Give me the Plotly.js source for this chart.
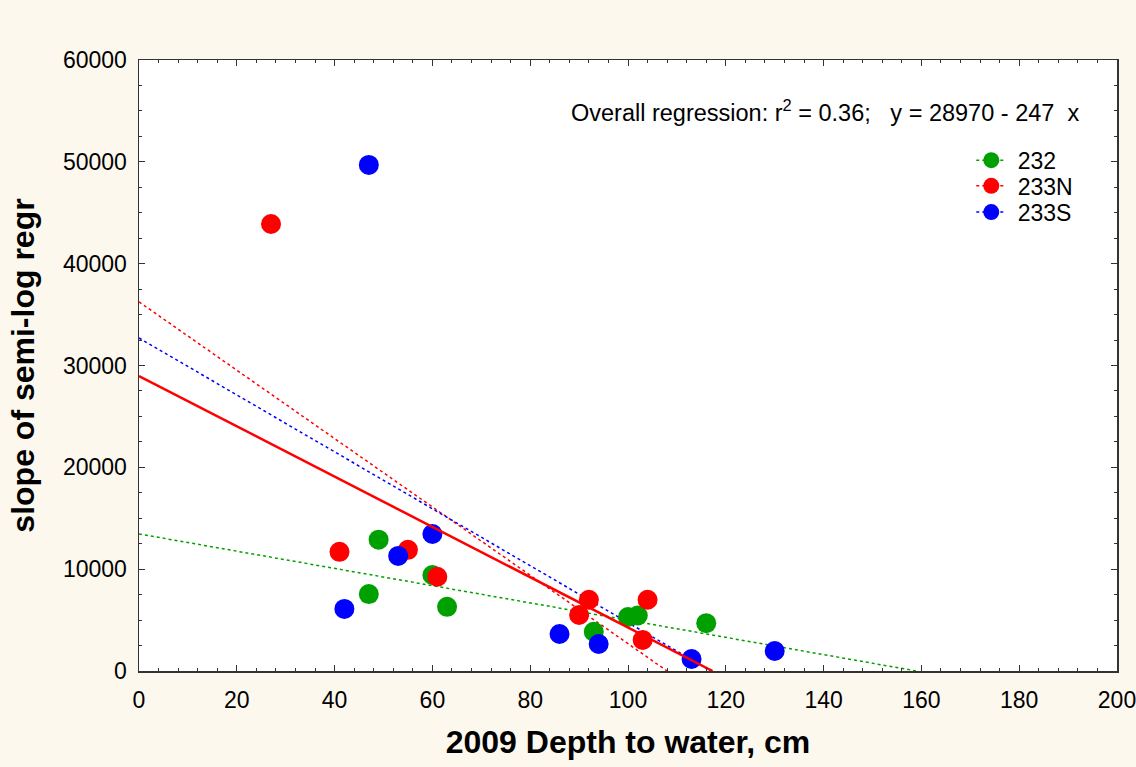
<!DOCTYPE html>
<html>
<head>
<meta charset="utf-8">
<script src="https://cdn.plot.ly/plotly-3.0.1.min.js"></script>
<style>html,body{margin:0;padding:0;background:#fdf8ee;}#chart{width:1136px;height:767px;}</style>
</head>
<body>
<div id="chart"></div>
<script>
// Site 232
const x232 = [49, 47, 60, 63, 93, 100, 102, 116];
const y232 = [12900, 7550, 9430, 6300, 3850, 5300, 5450, 4700];
// Site 233N
const x233N = [27, 41, 55, 61, 90, 92, 103, 104];
const y233N = [43900, 11700, 11900, 9250, 5500, 7000, 3050, 7000];
// Site 233S
const x233S = [47, 42, 53, 60, 86, 94, 113, 130];
const y233S = [49700, 6100, 11300, 13450, 3630, 2650, 1180, 1960];

// Regression line end points
const fit232X = [0, 159];   const fit232Y = [13460, 0];
const fit233NX = [0, 108];  const fit233NY = [36250, 0];
const fit233SX = [0, 117];  const fit233SY = [32700, 0];
const fitAllX = [0, 117.3]; const fitAllY = [28970, 0];

const seriesNames = ['232', '233N', '233S'];
const colors = ['#00a000', '#ff0000', '#0000ff'];

const mk = c => ({color: c, size: 20, line: {width: 0}});
const traces = [];
const fx = [fit232X, fit233NX, fit233SX], fy = [fit232Y, fit233NY, fit233SY];
const px = [x232, x233N, x233S], py = [y232, y233N, y233S];
for (let i = 0; i < 3; i++) {
  traces.push({x: fx[i], y: fy[i], mode: 'lines', line: {color: colors[i], width: 1.5, dash: 'dot'},
    showlegend: false, hoverinfo: 'skip'});
}
for (let i = 0; i < 3; i++) {
  traces.push({x: px[i], y: py[i], mode: 'markers', marker: mk(colors[i]), showlegend: false, name: seriesNames[i]});
}
traces.push({x: fitAllX, y: fitAllY, mode: 'lines', line: {color: '#ff0000', width: 2.5}, showlegend: false});
const legendIds = ['legend', 'legend2', 'legend3'];
for (let i = 0; i < 3; i++) {
  traces.push({x: [null], y: [null], mode: 'lines+markers', name: '&nbsp;' + seriesNames[i], legend: legendIds[i],
    marker: mk(colors[i]), line: {color: colors[i], width: 1.5, dash: 'dot'}});
}

const font = {family: '"Liberation Sans", Arial, sans-serif', color: '#000'};
const axisCommon = {
  showgrid: false, zeroline: false, showline: true, linecolor: '#333', linewidth: 1.5,
  mirror: 'ticks', ticks: 'inside', ticklen: 6, tickcolor: '#333', tickwidth: 1,
  tickfont: Object.assign({size: 23}, font), tickformat: 'd', ticklabeloverflow: 'allow'
};
const legendBase = (y) => ({x: 0.851, y: y, xanchor: 'left', yanchor: 'middle', bgcolor: 'rgba(0,0,0,0)',
  font: Object.assign({}, font, {size: 23}), itemwidth: 30, borderwidth: 0});
const layout = {
  width: 1136, height: 767,
  paper_bgcolor: '#fdf8ee', plot_bgcolor: '#ffffff',
  margin: {l: 139, r: 19, t: 60, b: 96},
  font: font,
  xaxis: Object.assign({}, axisCommon, {
    range: [0, 200], dtick: 20, tick0: 0,
    minor: {dtick: 4, ticks: 'inside', ticklen: 3, tickcolor: '#333'},
    ticklabelstandoff: 8,
    title: {text: '<b>2009 Depth to water, cm</b>', font: Object.assign({}, font, {size: 32}), standoff: 18}
  }),
  yaxis: Object.assign({}, axisCommon, {
    range: [0, 60000], dtick: 10000, tick0: 0,
    minor: {dtick: 2500, ticks: 'inside', ticklen: 3, tickcolor: '#333'},
    ticklabelstandoff: 6,
    title: {text: '<b>slope of semi-log regr</b>', font: Object.assign({}, font, {size: 32}), standoff: 18}
  }),
  legend: legendBase(0.836),
  legend2: legendBase(0.794),
  legend3: legendBase(0.751),
  annotations: [{
    xref: 'paper', yref: 'paper', x: 0.44, y: 0.917, xanchor: 'left', yanchor: 'middle', showarrow: false,
    text: 'Overall regression: r<sup>2</sup> = 0.36;   y = 28970 - 247 &nbsp;x',
    font: Object.assign({}, font, {size: 23.5})
  }],
  showlegend: true
};
Plotly.newPlot('chart', traces, layout, {displayModeBar: false, staticPlot: true});
</script>
</body>
</html>
